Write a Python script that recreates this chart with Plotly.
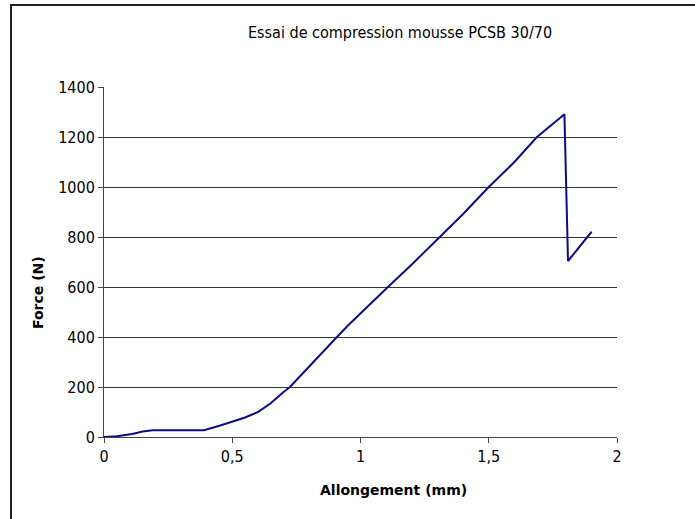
import plotly.graph_objects as go

# Data
allongement = [0, 0.05, 0.11, 0.15, 0.19, 0.39, 0.45, 0.50, 0.55, 0.60, 0.65, 0.70, 0.725,
               0.80, 0.85, 0.91, 0.95, 1.00, 1.05, 1.11, 1.20, 1.31, 1.40, 1.50, 1.60,
               1.687, 1.713, 1.75, 1.795, 1.809, 1.901]
force = [0, 3, 12, 22, 27, 27, 45, 60, 78, 100, 135, 180, 200,
         282, 338, 402, 445, 495, 545, 603, 690, 800, 892, 1000, 1100,
         1199, 1221, 1250, 1291, 704, 821]

x_tickvals = [0, 0.5, 1, 1.5, 2]
x_ticktext = ["0", "0,5", "1", "1,5", "2"]
y_tickvals = [0, 200, 400, 600, 800, 1000, 1200, 1400]

title_text = "Essai de compression mousse PCSB 30/70"
x_title = "Allongement (mm)"
y_title = "Force (N)"

FONT = "DejaVu Sans Condensed, DejaVu Sans, sans-serif"
BOLD_FONT = "DejaVu Sans, sans-serif"

fig = go.Figure()
fig.add_trace(go.Scatter(x=allongement, y=force, mode="lines",
                         line=dict(color="#0c0c8a", width=2), showlegend=False))

fig.update_layout(
    width=695, height=519,
    margin=dict(l=104, r=78, t=87, b=82),
    paper_bgcolor="white", plot_bgcolor="white",
    font=dict(family=FONT, size=15, color="black"),
    xaxis=dict(range=[0, 2], tickvals=x_tickvals, ticktext=x_ticktext,
               showgrid=False, zeroline=False, showline=True, linecolor="#444",
               linewidth=1, ticks="outside", ticklen=5, tickcolor="#444",
               tickfont=dict(size=16, family=FONT)),
    yaxis=dict(range=[0, 1400], tickvals=y_tickvals,
               showgrid=True, gridcolor="#333", gridwidth=1, zeroline=False,
               showline=True, linecolor="#444", linewidth=1,
               ticks="outside", ticklen=5, tickcolor="#444",
               tickfont=dict(size=16, family=FONT)),
    annotations=[
        dict(text=title_text, xref="paper", yref="paper", x=0.577, y=1 + (87 - 32) / 350,
             xanchor="center", yanchor="middle", showarrow=False,
             font=dict(size=16, family=FONT, color="black")),
        dict(text="<b>" + x_title + "</b>", xref="paper", yref="paper", x=0.565,
             y=-(490 - 437) / 350, xanchor="center", yanchor="middle", showarrow=False,
             font=dict(size=14, family=BOLD_FONT, color="black")),
        dict(text="<b>" + y_title + "</b>", xref="paper", yref="paper", x=(38 - 104) / 513,
             y=(437 - 293) / 350, xanchor="center", yanchor="middle", showarrow=False,
             textangle=-90, font=dict(size=14, family=BOLD_FONT, color="black")),
    ],
    shapes=[
        dict(type="rect", xref="paper", yref="paper",
             x0=(11 - 104) / 513, x1=(720 - 104) / 513,
             y0=-(540 - 437) / 350, y1=1 + (87 - 5) / 350,
             line=dict(color="#222", width=2), fillcolor="rgba(0,0,0,0)", layer="above"),
    ],
)

fig.write_html("out.html", config={"displayModeBar": False},
               post_script="document.body.style.margin='0';document.body.style.overflow='hidden';")
